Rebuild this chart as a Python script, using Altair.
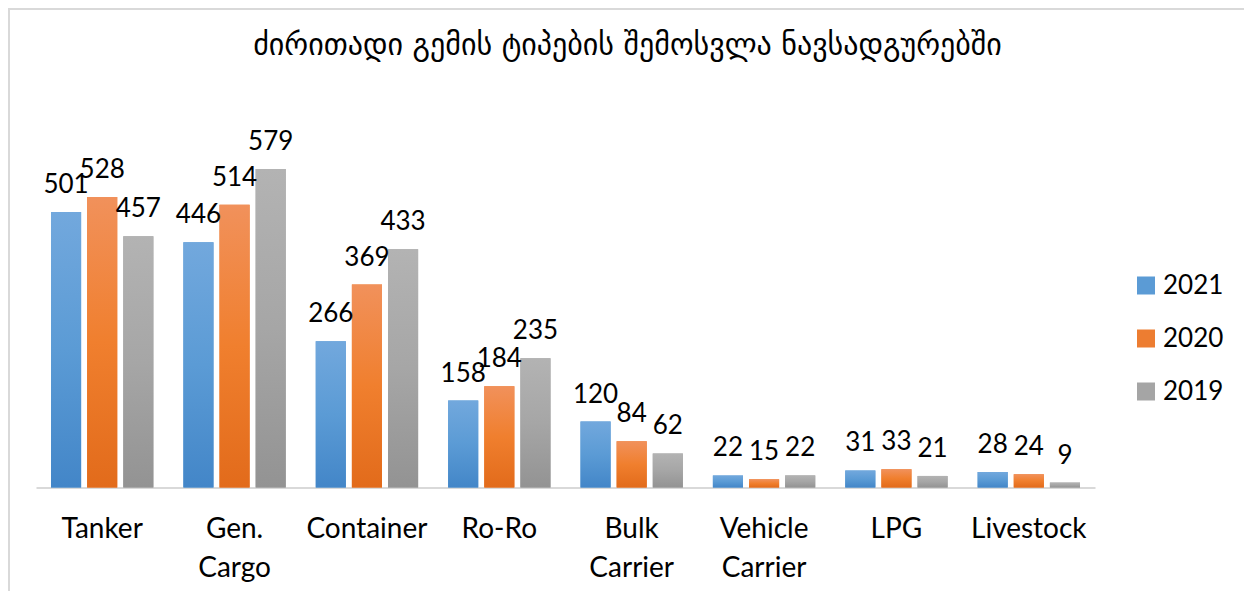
import altair as alt
import pandas as pd

categories = ["Tanker", "Gen. Cargo", "Container", "Ro-Ro", "Bulk Carrier",
              "Vehicle Carrier", "LPG", "Livestock"]
years = ["2021", "2020", "2019"]
v2021 = [501, 446, 266, 158, 120, 22, 31, 28]
v2020 = [528, 514, 369, 184, 84, 15, 33, 24]
v2019 = [457, 579, 433, 235, 62, 22, 21, 9]
title_text = "ძირითადი გემის ტიპების შემოსვლა ნავსადგურებში"

rows = []
for yr, vals in zip(years, [v2021, v2020, v2019]):
    for c, v in zip(categories, vals):
        rows.append({"cat": c, "year": yr, "value": v})
df = pd.DataFrame(rows)

solid = ["#5B9BD5", "#ED7D31", "#A5A5A5"]


def grad(top, mid, bot):
    return {"gradient": "linear", "x1": 0, "y1": 0, "x2": 0, "y2": 1,
            "stops": [{"offset": 0, "color": top},
                      {"offset": 0.5, "color": mid},
                      {"offset": 1, "color": bot}]}


g21 = grad("#72A8DD", "#5B9BD5", "#4386C8")
g20 = grad("#F1915B", "#F07F2E", "#E26B1B")
g19 = grad("#B3B3B3", "#A6A6A6", "#939393")

x_enc = alt.X("cat:N", sort=categories,
              scale=alt.Scale(paddingInner=0.2266, paddingOuter=0.1133),
              axis=alt.Axis(title=None, ticks=False, labelAngle=0,
                            labelFont="Lato", labelFontSize=28, labelColor="#000000",
                            labelPadding=28, labelLineHeight=39,
                            labelExpr="split(datum.label, ' ')",
                            domainColor="#D9D9D9", domainWidth=2))
xo_enc = alt.XOffset("year:N", sort=years,
                     scale=alt.Scale(domain=years, paddingInner=1 / 6, paddingOuter=0))
y_enc = alt.Y("value:Q", scale=alt.Scale(domain=[0, 700]), axis=None)

base = alt.Chart(df).encode(x=x_enc, xOffset=xo_enc, y=y_enc)

bars_solid = base.mark_bar().encode(
    color=alt.Color("year:N", sort=years,
                    scale=alt.Scale(domain=years, range=solid),
                    legend=alt.Legend(orient="none", legendX=1097, legendY=170,
                                      title=None, symbolType="square", symbolSize=324,
                                      symbolStrokeWidth=0,
                                      labelFont="Lato", labelFontSize=26,
                                      labelColor="#000000",
                                      rowPadding=27, labelOffset=4))
)

bars_grad = base.mark_bar(strokeWidth=0).encode(
    fill=alt.when(alt.datum.year == "2021").then(alt.value(g21))
    .when(alt.datum.year == "2020").then(alt.value(g20))
    .otherwise(alt.value(g19))
)

labels = base.mark_text(baseline="alphabetic", dy=-19, font="Lato", fontSize=26,
                        color="#000000").encode(text="value:Q")

frame_df = pd.DataFrame({"a": [0]})
left_border = alt.Chart(frame_df).mark_rule(color="#D9D9D9", strokeWidth=2).encode(
    x=alt.value(-27), y=alt.value(-93.5), y2=alt.value(490))
top_border = alt.Chart(frame_df).mark_rule(color="#D9D9D9", strokeWidth=2).encode(
    x=alt.value(-28), x2=alt.value(1220), y=alt.value(-93.5))

chart = alt.layer(left_border, top_border, bars_solid, bars_grad, labels).properties(
    width=1059, height=385,
    padding={"left": 28, "top": 94.5, "right": 149, "bottom": 103},
    autosize=alt.AutoSizeParams(type="none"),
    title=alt.TitleParams(title_text, font="DejaVu Sans", fontSize=30,
                          fontWeight="normal", color="#000000", anchor="middle",
                          baseline="alphabetic", offset=-77, dx=62),
).configure_view(stroke=None)

chart.save("out.html", embed_options={"renderer": "svg", "actions": False})
